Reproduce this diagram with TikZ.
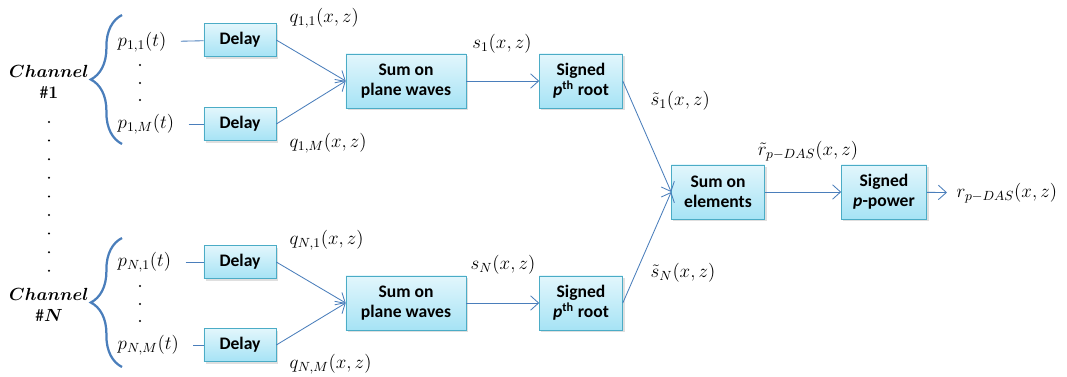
\RequirePackage{fix-cm}
\documentclass[tikz,border=0pt]{standalone}
\usepackage{amsmath,bm}
\usepackage{fontspec}
\setmainfont{Carlito}
\usetikzlibrary{arrows.meta,shadows,decorations.pathreplacing}
\definecolor{boxline}{HTML}{4BACC6}
\definecolor{boxtop}{HTML}{E2F6FC}
\definecolor{boxbot}{HTML}{A6E3F5}
\definecolor{wire}{HTML}{4A7EBB}
\tikzset{
  blk/.style={draw=boxline, top color=boxtop, bottom color=boxbot,
    font=\fontsize{12.5}{14.5}\selectfont\bfseries, align=center, inner sep=0pt,
    minimum height=1.35cm,
    drop shadow={shadow xshift=0.5mm, shadow yshift=-0.5mm, opacity=0.25}},
  dly/.style={blk, minimum width=1.8cm, minimum height=0.825cm},
  lbl/.style={font=\fontsize{13.5}{15}\selectfont, inner sep=1pt},
  chn/.style={font=\fontsize{12.5}{15}\selectfont, inner sep=1pt, align=center},
  wr/.style={draw=wire, line width=0.6pt},
  arr/.style={wr, -{Straight Barb[length=2mm,width=3.6mm]}},
  brc/.style={draw=wire, line width=1.6pt, decorate,
    decoration={brace, amplitude=0.78cm}},
}
\begin{document}
\begin{tikzpicture}[x=0.025cm, y=-0.025cm]
\useasboundingbox (0,0) rectangle (1067,376);

% channel 1
\node[chn] (ch1) at (49,82) {$\bm{Channel}$\\$\bm{\#1}$};
\draw[brc] (122,144) -- (122,15);
\node[lbl, anchor=west] (p11) at (116,42) {$p_{1,1}(t)$};
\node[lbl, anchor=west] (p1M) at (116,124) {$p_{1,M}(t)$};
\foreach \y in {65,83,100} \fill (140,\y) circle (0.8pt);
\node[dly] (d11) at (240,40) {Delay};
\node[dly] (d1M) at (240,124) {Delay};
\node[blk, minimum width=3cm] (sp1) at (406,81) {Sum on\\plane waves};
\node[blk, minimum width=2.075cm] (sr1) at (581,81) {Signed\\\textit{p}\textsuperscript{th} root};

% channel N
\node[chn] (chN) at (49,305) {$\bm{Channel}$\\$\bm{\#N}$};
\draw[brc] (122,367) -- (122,238);
\node[lbl, anchor=west] (pN1) at (116,262) {$p_{N,1}(t)$};
\node[lbl, anchor=west] (pNM) at (116,345) {$p_{N,M}(t)$};
\foreach \y in {286,304,321} \fill (140,\y) circle (0.8pt);
\node[dly] (dN1) at (240,262) {Delay};
\node[dly] (dNM) at (240,345) {Delay};
\node[blk, minimum width=3cm] (spN) at (406,303) {Sum on\\plane waves};
\node[blk, minimum width=2.075cm] (srN) at (581,303) {Signed\\\textit{p}\textsuperscript{th} root};

% dots between channels
\foreach \i in {0,...,8} \fill (49,122+18.6*\i) circle (0.8pt);

% combining
\node[blk, minimum width=2.325cm] (se) at (718,192) {Sum on\\elements};
\node[blk, minimum width=2.125cm] (pp) at (884,192) {Signed\\\textit{p}-power};
\node[lbl, anchor=west] (out) at (955,193) {$r_{p-DAS}(x,z)$};

% signal labels
\node[lbl, anchor=west] (q11) at (288,18) {$q_{1,1}(x,z)$};
\node[lbl, anchor=west] (q1M) at (288,143) {$q_{1,M}(x,z)$};
\node[lbl, anchor=west] (qN1) at (288,240) {$q_{N,1}(x,z)$};
\node[lbl, anchor=west] (qNM) at (288,364) {$q_{N,M}(x,z)$};
\node[lbl] (s1) at (502,44) {$s_1(x,z)$};
\node[lbl] (sN) at (503,265) {$s_N(x,z)$};
\node[lbl, anchor=west] (st1) at (649,101) {$\tilde{s}_1(x,z)$};
\node[lbl, anchor=west] (stN) at (649,273) {$\tilde{s}_N(x,z)$};
\node[lbl] (rt) at (808,151) {$\tilde{r}_{p-DAS}(x,z)$};

% connectors
\draw[wr, shorten <=0.32cm] (p11) -- (d11);
\draw[wr, shorten <=0.32cm] (p1M) -- (d1M);
\draw[wr, shorten <=0.32cm] (pN1) -- (dN1);
\draw[wr, shorten <=0.32cm] (pNM) -- (dNM);
\draw[arr] (d11.east) -- (sp1.west);
\draw[arr] (d1M.east) -- (sp1.west);
\draw[arr] (dN1.east) -- (spN.west);
\draw[arr] (dNM.east) -- (spN.west);
\draw[arr] (sp1) -- (sr1);
\draw[arr] (spN) -- (srN);
\draw[arr] (sr1.east) -- (se.west);
\draw[arr] (srN.east) -- (se.west);
\draw[arr] (se) -- (pp);
\draw[arr, shorten >=0.2cm] (pp) -- (out);

\end{tikzpicture}
\end{document}
